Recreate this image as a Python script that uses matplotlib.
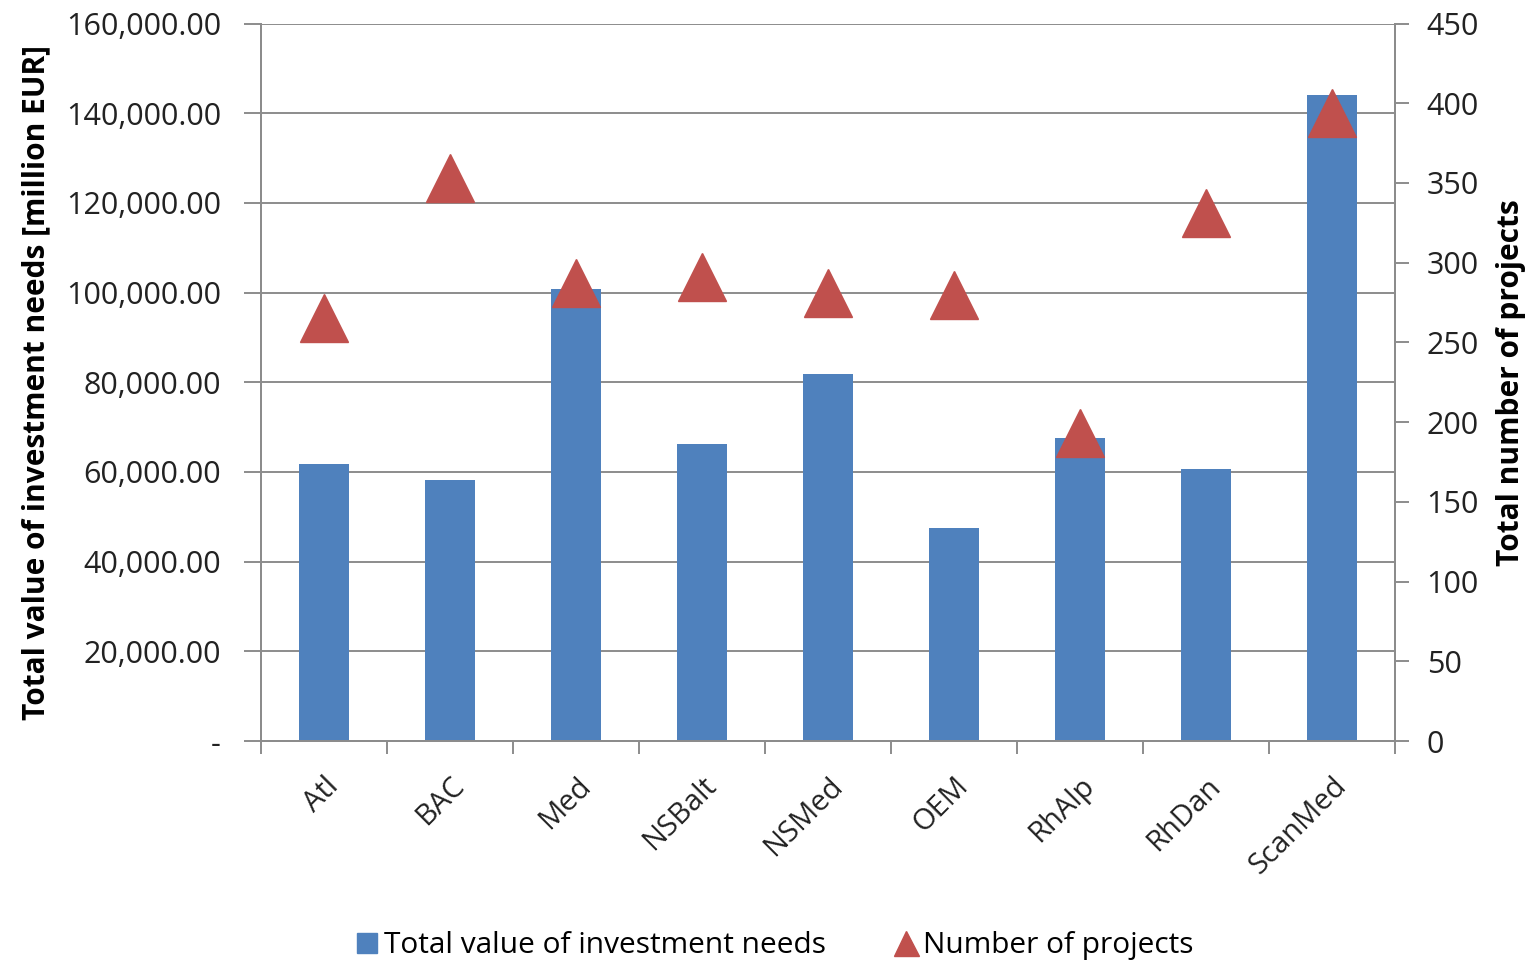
import matplotlib
matplotlib.use("Agg")
import matplotlib.pyplot as plt
from matplotlib.ticker import FuncFormatter, MultipleLocator
from matplotlib.lines import Line2D
import numpy as np

categories = ["Atl", "BAC", "Med", "NSBalt", "NSMed", "OEM", "RhAlp", "RhDan", "ScanMed"]
investment = [61800, 58300, 100700, 66300, 81800, 47600, 67500, 60600, 144100]
projects = [265, 353, 287, 291, 281, 280, 193, 331, 394]

BLUE = "#4F81BD"
RED = "#C0504D"
GRID = "#8c8c8c"
FONT = "Open Sans"

plt.rcParams['font.family'] = [FONT, 'DejaVu Sans']

fig = plt.figure(figsize=(15.36, 9.64), dpi=100)
ax = fig.add_axes([0.170, 0.2313, 0.738, 0.7443])
ax2 = ax.twinx()

x = np.arange(len(categories))
ax.bar(x, investment, width=0.40, color=BLUE, zorder=2)
ax.set_xlim(-0.5, len(categories) - 0.5)
ax.set_ylim(0, 160000)
ax.yaxis.set_major_locator(MultipleLocator(20000))
ax.yaxis.set_major_formatter(FuncFormatter(lambda v, p: "-" if v == 0 else f"{v:,.2f}"))
ax.grid(axis='y', color=GRID, linewidth=1.4, zorder=0)
ax.set_axisbelow(True)

ax2.plot(x, projects, linestyle='none', marker='^', markersize=34, color=RED, zorder=3)
ax2.set_ylim(0, 450)
ax2.yaxis.set_major_locator(MultipleLocator(50))

for a in (ax, ax2):
    a.spines['top'].set_visible(False)
    for s in ('left', 'right', 'bottom'):
        a.spines[s].set_color(GRID)
        a.spines[s].set_linewidth(1.4)

ax.set_xticks(np.arange(len(categories) + 1) - 0.5)
ax.set_xticklabels([])
ax.set_xticks(x, minor=True)
ax.set_xticklabels(categories, minor=True, rotation=45, ha='right', va='top',
                   rotation_mode='anchor', fontsize=21, color="#222222")
ax.tick_params(axis='x', which='major', direction='out', length=9, color=GRID, width=1.4)
ax.tick_params(axis='x', which='minor', length=0, pad=22)
ax.tick_params(axis='y', direction='out', length=12, color=GRID, width=1.4, labelsize=22,
               labelcolor="#222222", pad=17)
ax2.tick_params(axis='y', direction='out', length=10, color=GRID, width=1.4, labelsize=22,
                labelcolor="#222222", pad=13)

ax.set_ylabel("Total value of investment needs [million EUR]", fontsize=21.5, fontweight='bold',
              labelpad=10)
ax2.set_ylabel("Total number of projects", fontsize=21.5, fontweight='bold', labelpad=12)

handles = [Line2D([0], [0], marker='s', linestyle='none', color=BLUE, markersize=15),
           Line2D([0], [0], marker='^', linestyle='none', color=RED, markersize=18)]
fig.legend(handles, ["Total value of investment needs", "Number of projects"],
           loc='center', bbox_to_anchor=(0.503, 0.019), ncol=2, frameon=False, fontsize=21.5,
           handletextpad=0.05, columnspacing=2.2, handlelength=1.0)

fig.savefig("out.png", dpi=100)
